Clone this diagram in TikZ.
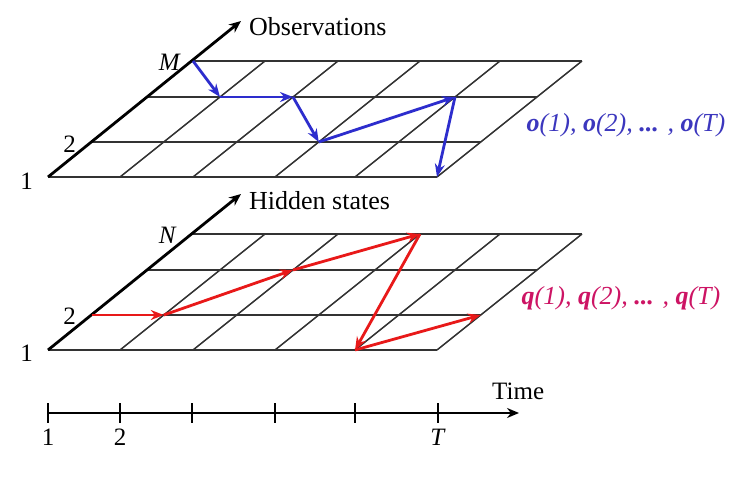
\documentclass[tikz,border=0pt]{standalone}
\usepackage{fontspec}
\setmainfont{Liberation Serif}
\usetikzlibrary{arrows.meta}
\definecolor{obsblue}{RGB}{45,45,205}
\definecolor{obstext}{RGB}{60,55,190}
\definecolor{hidred}{RGB}{232,25,25}
\definecolor{hidtext}{RGB}{205,20,100}
\tikzset{
  gridline/.style={line width=1.5pt, black!80},
  axisline/.style={line width=2.8pt, black, -{Stealth[length=12pt,width=10pt]}},
  obsarrow/.style={line width=2.8pt, obsblue, -{Stealth[length=13pt,width=10pt]}},
  hidarrow/.style={line width=2.8pt, hidred, -{Stealth[length=13pt,width=10pt]}},
  lbl/.style={inner sep=0pt, font=\fontsize{25}{29}\selectfont},
  title/.style={inner sep=0pt, anchor=west, font=\fontsize{26}{30}\selectfont},
  seqlbl/.style={inner sep=0pt, font=\fontsize{26}{30}\selectfont\itshape}
}
\begin{document}
\begin{tikzpicture}[x=1pt,y=-1pt]
\useasboundingbox[fill=white] (0,0) rectangle (741,478);
% grid coordinates
\foreach \p/\base in {o/177,h/350} {
  \foreach \c/\bx in {0/48,1/120,2/193,3/275,4/355,5/437} {
    \foreach \r/\dy in {0/0,1/35,2/80,3/116} {
      \coordinate (\p-\c-\r) at ({\bx+1.25*\dy},{\base-\dy});
    }
  }
  \foreach \r in {0,1,2,3} { \draw[gridline] (\p-0-\r) -- (\p-5-\r); }
  \foreach \c in {1,...,5} { \draw[gridline] (\p-\c-0) -- (\p-\c-3); }
}
\coordinate (otip) at (241,21);
\coordinate (htip) at (241,194);
\draw[axisline] (o-0-0) -- (otip);
\draw[axisline] (h-0-0) -- (htip);
\node[title] (obs) at (249,27) {Observations};
\node[title] (hid) at (249,201) {Hidden states};
% axis labels
\node[lbl, anchor=east] (lM) at (181,62) {\textit{M}};
\node[lbl, anchor=east] (lo2) at (76,144) {2};
\node[lbl, anchor=east] (lo1) at (33,181) {1};
\node[lbl, anchor=east] (lN) at (177,235) {\textit{N}};
\node[lbl, anchor=east] (lh2) at (76,316) {2};
\node[lbl, anchor=east] (lh1) at (33,353) {1};
% paths
\draw[obsarrow] (o-0-3) -- (o-1-2);
\draw[obsarrow] (o-1-2) -- (o-2-2);
\draw[obsarrow] (o-2-2) -- (o-3-1);
\draw[obsarrow] (o-3-1) -- (o-4-2);
\draw[obsarrow] (o-4-2) -- (o-5-0);
\draw[hidarrow] (h-0-1) -- (h-1-1);
\draw[hidarrow] (h-1-1) -- (h-2-2);
\draw[hidarrow] (h-2-2) -- (h-3-3);
\draw[hidarrow] (h-3-3) -- (h-4-0);
\draw[hidarrow] (h-4-0) -- (h-5-1);
\node[seqlbl, text=obstext] (oseq) at (626,125) {\textbf{o}(1), \textbf{o}(2), \textbf{...} , \textbf{o}(T)};
\node[seqlbl, text=hidtext] (qseq) at (621,298) {\textbf{q}(1), \textbf{q}(2), \textbf{...} , \textbf{q}(T)};
% timeline
\coordinate (t0) at (48,413);
\coordinate (tend) at (519,413);
\draw[line width=2.8pt, -{Stealth[length=12pt,width=10pt]}] (t0) -- (tend);
\foreach \x/\n in {48/t1,120/t2,192/t3,275/t4,355/t5,438/t6} {
  \draw[line width=1.5pt] (\x,403) -- (\x,423);
  \coordinate (\n) at (\x,437);
}
\node[lbl] (l1) at (t1) {1};
\node[lbl] (l2) at (t2) {2};
\node[lbl] (lT) at (t6) {\textit{T}};
\node[lbl, anchor=west] (time) at (492,391) {Time};
\end{tikzpicture}
\end{document}
